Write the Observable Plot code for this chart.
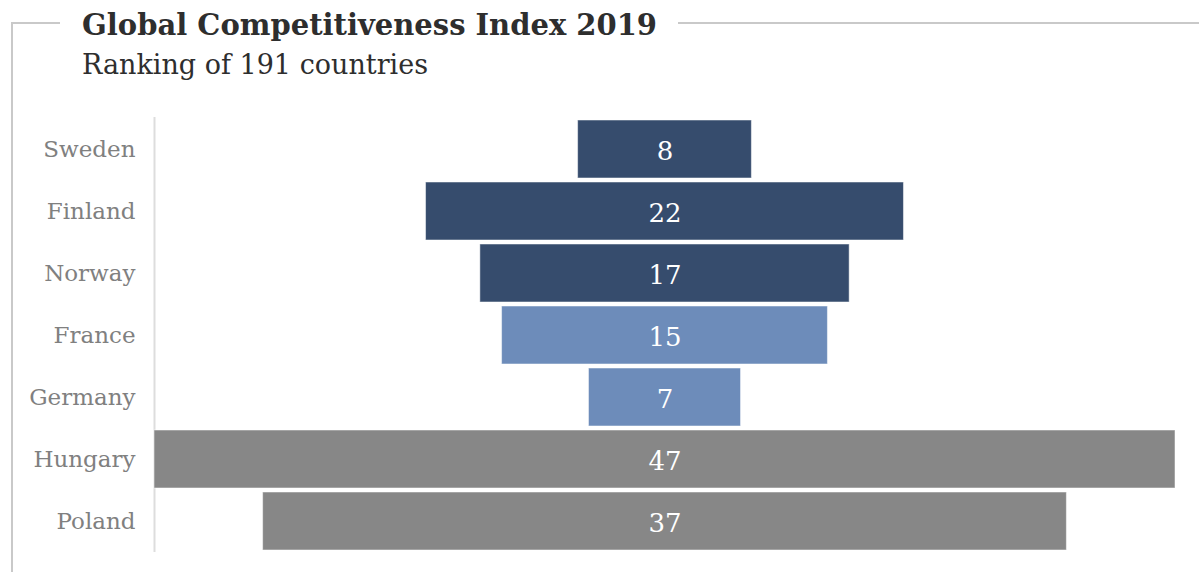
<!DOCTYPE html>
<html><head><meta charset="utf-8">
<script src="https://cdn.jsdelivr.net/npm/d3@7"></script>
<script src="https://cdn.jsdelivr.net/npm/@observablehq/plot@0.6"></script>
<style>
body{margin:0;background:#fff;font-family:"DejaVu Serif","Liberation Serif",serif;}
#wrap{position:relative;width:1199px;height:572px;overflow:hidden;}
#frame{position:absolute;left:11px;top:22px;right:0;bottom:-10px;border-top:2px solid #c9c9c9;border-left:2px solid #c9c9c9;}
#head{position:relative;height:100px;}
#title{position:absolute;left:60px;top:8px;padding:0 21px 0 22px;background:#fff;font-weight:bold;font-size:29px;color:#2e2e2e;white-space:nowrap;}
#sub{position:absolute;left:82px;top:49px;font-size:27px;color:#2e2e2e;white-space:nowrap;}
#chart{position:relative;}
</style></head>
<body>
<div id="wrap">
<div id="frame"></div>
<div id="head"><div id="title">Global Competitiveness Index 2019</div><div id="sub">Ranking of 191 countries</div></div>
<div id="chart"></div>
</div>
<script>
const countries = ["Sweden","Finland","Norway","France","Germany","Hungary","Poland"];
const ranks = [8,22,17,15,7,47,37];
const groups = ["Nordic","Nordic","Nordic","Western","Western","Central","Central"];
const groupNames = ["Nordic","Western","Central"];
const groupColors = ["#364c6d","#6d8cba","#878787"];

const data = countries.map((c,i)=>({country:c, rank:ranks[i], group:groups[i]}));
const maxV = d3.max(ranks);

const plot = Plot.plot({
  width: 1199,
  height: 472,
  marginLeft: 154,
  marginRight: 24,
  marginTop: 17,
  marginBottom: 20,
  style: {fontFamily: '"DejaVu Serif","Liberation Serif",serif', background: "transparent"},
  x: {domain: [-maxV/2, maxV/2], axis: null},
  y: {domain: countries, paddingInner: 0.065, paddingOuter: 0.03, label: null},
  color: {domain: groupNames, range: groupColors},
  marks: [
    Plot.ruleX([-maxV/2], {stroke: "#dddddd", strokeWidth: 2}),
    Plot.barX(data, {y: "country", x1: d => -d.rank/2, x2: d => d.rank/2, fill: "group", stroke: "#ffffff", strokeOpacity: 0.5, strokeWidth: 1}),
    Plot.text(data, {y: "country", x: 0, text: d => String(d.rank), fill: "white", fontSize: 26, dy: 2}),
    Plot.axisY({tickSize: 0, tickPadding: 19, fontSize: 23, color: "#808080", label: null})
  ]
});
document.getElementById("chart").appendChild(plot);
</script>
</body></html>
